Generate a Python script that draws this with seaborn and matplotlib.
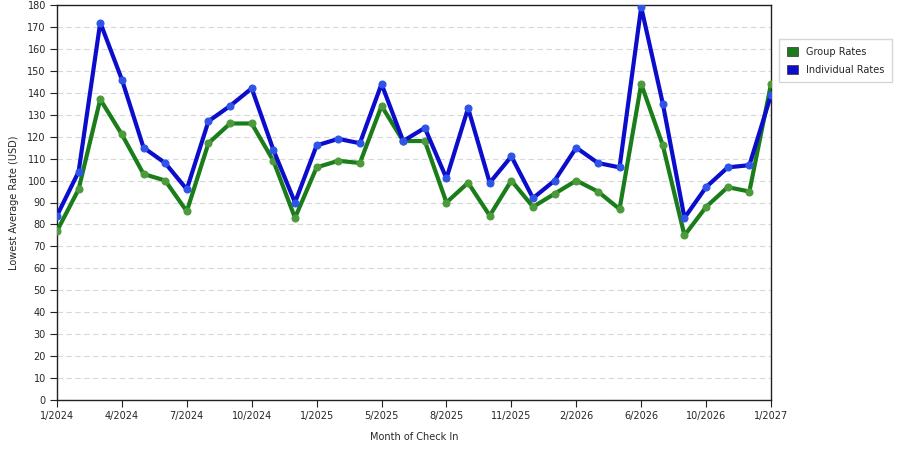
import numpy as np
import pandas as pd
import seaborn as sns
import matplotlib.pyplot as plt

# Monthly lowest average rates
tick_labels = ['1/2024', '4/2024', '7/2024', '10/2024', '1/2025', '5/2025',
               '8/2025', '11/2025', '2/2026', '6/2026', '10/2026', '1/2027']
group_rates = [77, 96, 137, 121, 103, 100, 86, 117, 126, 126, 109, 83,
               106, 109, 108, 134, 118, 118, 90, 99, 84, 100, 88, 94,
               100, 95, 87, 144, 116, 75, 88, 97, 95, 144]
indiv_rates = [84, 104, 172, 146, 115, 108, 96, 127, 134, 142, 114, 90,
               116, 119, 117, 144, 118, 124, 101, 133, 99, 111, 92, 100,
               115, 108, 106, 179, 135, 83, 97, 106, 107, 139]

n = len(group_rates)
df = pd.DataFrame({
    'idx': list(range(n)) * 2,
    'rate': group_rates + indiv_rates,
    'series': ['Group Rates'] * n + ['Individual Rates'] * n,
})

sns.set_style('white')
plt.rcParams['font.family'] = ['DejaVu Sans']

fig = plt.figure(figsize=(9, 4.5), dpi=100)
ax = fig.add_axes([0.0633, 0.111, 0.7934, 0.878])

palette = {'Group Rates': '#1a7d1a', 'Individual Rates': '#0c0ccc'}
sns.lineplot(data=df, x='idx', y='rate', hue='series', palette=palette,
             linewidth=3, marker='o', markersize=5, markeredgewidth=0.8,
             ax=ax, legend=False, zorder=3)
for line, mfc in zip(ax.lines, ['#4c9a3c', '#2f55e8']):
    line.set_markerfacecolor(mfc)
    line.set_markeredgecolor(mfc)

ax.set_xlim(0, n - 1)
ax.set_ylim(0, 180)
ax.set_yticks(np.arange(0, 181, 10))
ax.set_xticks(np.arange(0, n, 3))
ax.set_xticklabels(tick_labels)
ax.tick_params(axis='both', labelsize=7, length=5, width=0.8, direction='out',
               color='#222222', pad=3, bottom=True, left=True)
ax.yaxis.grid(True, linestyle=(0, (5, 3)), color='#d8d8d8', linewidth=0.8)
ax.xaxis.grid(False)
for s in ax.spines.values():
    s.set_color('#222222')
    s.set_linewidth(1)

ax.set_xlabel('Month of Check In', fontsize=7, labelpad=8)
ax.set_ylabel('Lowest Average Rate (USD)', fontsize=7, labelpad=6)

handles = [plt.Rectangle((0, 0), 1, 1, facecolor=palette[k], edgecolor='#333333', linewidth=0.5)
           for k in palette]
leg = fig.legend(handles, list(palette.keys()), loc='upper left',
                 bbox_to_anchor=(0.866, 0.913), borderaxespad=0, fontsize=7,
                 frameon=True, fancybox=False, edgecolor='#cccccc',
                 handlelength=1.1, handleheight=1.1, borderpad=0.8,
                 labelspacing=0.8)

fig.savefig('out.png', dpi=100)
